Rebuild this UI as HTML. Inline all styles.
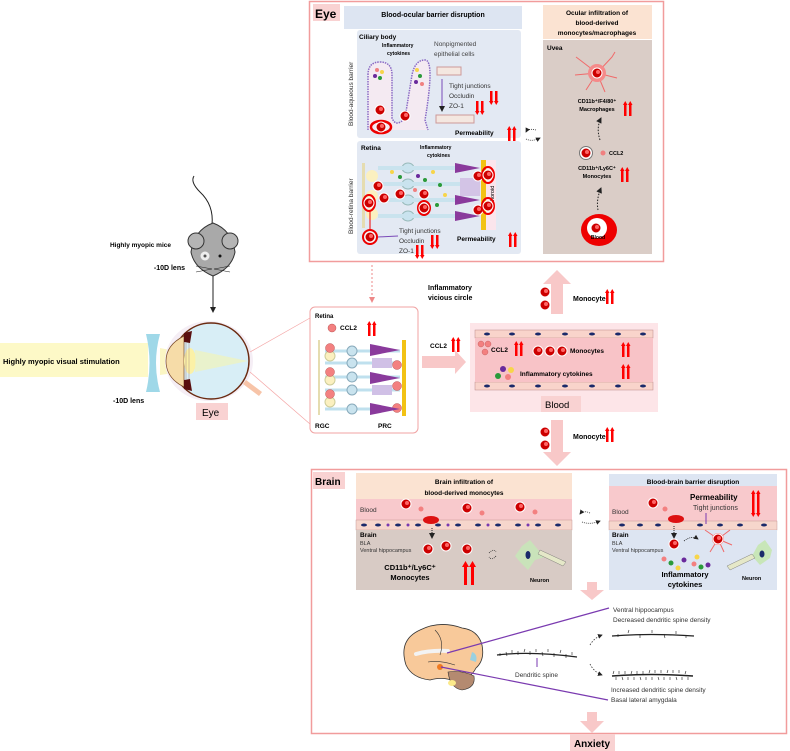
<!DOCTYPE html>
<html><head><meta charset="utf-8"><style>
html,body{margin:0;padding:0;background:#fff;}
svg{display:block;font-family:"Liberation Sans",Arial,sans-serif;}
.b{font-weight:bold;}
</style></head><body>
<svg width="790" height="751" viewBox="0 0 790 751" xmlns="http://www.w3.org/2000/svg">
<defs>
<marker id="ah" markerWidth="6" markerHeight="6" refX="5" refY="3" orient="auto"><path d="M0,0L6,3L0,6z" fill="#222"/></marker>
<marker id="ahr" markerWidth="6" markerHeight="6" refX="5" refY="3" orient="auto"><path d="M0,0L6,3L0,6z" fill="#e88"/></marker>
<g id="up"><rect x="0" y="2" width="2.5" height="12" fill="#f00"/><path d="M-1,3L1.25,-1L3.5,3z" fill="#f00"/><rect x="5" y="2" width="2.5" height="12" fill="#f00"/><path d="M4,3L6.25,-1L8.5,3z" fill="#f00"/></g>
<g id="dn"><rect x="0" y="0" width="2.5" height="11" fill="#f00"/><path d="M-1,10L1.25,14L3.5,10z" fill="#f00"/><rect x="5" y="0" width="2.5" height="11" fill="#f00"/><path d="M4,10L6.25,14L8.5,10z" fill="#f00"/></g>
<g id="mono"><circle r="5" fill="#c00" stroke="#fff" stroke-width="1"/><circle r="2" cx="1" cy="-1" fill="#f66"/></g>
</defs>

<!-- ===== EYE BOX ===== -->
<rect x="309.5" y="1.5" width="354" height="260" fill="#fff" stroke="#f19c9c" stroke-width="1.5"/>
<rect x="313" y="4" width="27" height="17" fill="#f9d2d2"/>
<text x="315" y="18" font-size="12" class="b">Eye</text>
<rect x="344" y="6" width="178" height="23" fill="#dde5f2"/>
<text x="433" y="17" font-size="7" class="b" text-anchor="middle">Blood-ocular barrier disruption</text>
<rect x="357" y="30" width="164" height="108" rx="3" fill="#e3e9f3"/>
<rect x="357" y="141" width="164" height="113" rx="3" fill="#e3e9f3"/>
<text transform="translate(353,126) rotate(-90)" font-size="6.5" fill="#333">Blood-aqueous barrier</text>
<text transform="translate(353,234) rotate(-90)" font-size="6.5" fill="#333">Blood-retina barrier</text>
<text x="359" y="39" font-size="6.5" class="b">Ciliary body</text>
<text x="382" y="47" font-size="5" class="b">Inflammatory</text>
<text x="387" y="55" font-size="5" class="b">cytokines</text>
<text x="434" y="46" font-size="6.5" fill="#444">Nonpigmented</text>
<text x="434" y="56" font-size="6.5" fill="#444">epithelial cells</text>
<path d="M368,130 L368,75 Q368,62 380,62 Q392,62 392,75 L392,118 Q396,128 405,118 L412,75 Q415,60 425,60 Q435,60 425,120 L428,130" fill="#f4eaf2" stroke="#8a6ac4" stroke-width="1.5" stroke-dasharray="1.5,1"/>
<circle cx="377" cy="70" r="2" fill="#f08080"/><circle cx="382" cy="72" r="2" fill="#f7d54a"/><circle cx="375" cy="76" r="2" fill="#6a2a9c"/><circle cx="380" cy="78" r="2" fill="#2a9a3a"/>
<circle cx="417" cy="70" r="2" fill="#f7d54a"/><circle cx="420" cy="76" r="2" fill="#2a9a3a"/><circle cx="416" cy="82" r="2" fill="#6a2a9c"/><circle cx="422" cy="84" r="2" fill="#f08080"/>
<use href="#mono" x="380" y="110"/><use href="#mono" x="405" y="116"/>
<ellipse cx="381" cy="127" rx="10" ry="6" fill="none" stroke="#e00" stroke-width="2.5"/><use href="#mono" x="381" y="127"/>
<rect x="437" y="67" width="24" height="8" fill="#f4e7e0" stroke="#c99"/><rect x="436" y="115" width="38" height="8" fill="#f4e7e0" stroke="#c99"/>
<line x1="442" y1="79" x2="442" y2="111" stroke="#7a4ab8" stroke-width="1" marker-end="url(#ah)"/>
<text x="449" y="88" font-size="6.5" fill="#333">Tight junctions</text>
<text x="449" y="98" font-size="6.5" fill="#333">Occludin</text><use href="#dn" x="490" y="91"/>
<text x="449" y="108" font-size="6.5" fill="#333">ZO-1</text><use href="#dn" x="476" y="101"/>
<text x="455" y="135" font-size="6.5" class="b">Permeability</text><use href="#up" x="508" y="127"/>
<text x="361" y="150" font-size="6.5" class="b">Retina</text>
<text x="420" y="149" font-size="5" class="b">Inflammatory</text>
<text x="427" y="157" font-size="5" class="b">cytokines</text>
<g>
<rect x="362" y="163" width="3" height="65" fill="#e5dcb0"/>
<g fill="#c9e3ee" stroke="#9bb">
<ellipse cx="408" cy="168" rx="6" ry="5"/><ellipse cx="408" cy="184" rx="6" ry="5"/><ellipse cx="408" cy="200" rx="6" ry="5"/><ellipse cx="408" cy="216" rx="6" ry="5"/>
</g>
<g fill="#fbf0c0"><ellipse cx="372" cy="176" rx="6" ry="6"/><ellipse cx="372" cy="196" rx="6" ry="6"/><ellipse cx="372" cy="214" rx="6" ry="6"/></g>
<g stroke="#c9e3ee" stroke-width="4"><line x1="378" y1="168" x2="470" y2="168"/><line x1="378" y1="184" x2="470" y2="184"/><line x1="378" y1="200" x2="470" y2="200"/><line x1="378" y1="216" x2="470" y2="216"/></g>
<g fill="#8a3a9c"><path d="M455,163L480,168L455,173z"/><path d="M455,195L480,200L455,205z"/><path d="M455,211L480,216L455,221z"/></g>
<g fill="#d3c4e6"><rect x="460" y="178" width="20" height="10"/><rect x="460" y="188" width="20" height="8"/></g>
<rect x="481" y="160" width="5" height="70" fill="#f2c214"/>
<rect x="486" y="160" width="10" height="70" fill="#fbe5ec"/>
<text transform="translate(494,205) rotate(-90)" font-size="5.5">Choroid</text>
<circle cx="392" cy="172" r="2" fill="#f7d54a"/><circle cx="400" cy="177" r="2" fill="#2a9a3a"/><circle cx="418" cy="176" r="2" fill="#6a2a9c"/><circle cx="425" cy="180" r="2" fill="#2a9a3a"/><circle cx="433" cy="172" r="2" fill="#f7d54a"/><circle cx="440" cy="185" r="2" fill="#2a9a3a"/><circle cx="415" cy="190" r="2" fill="#f08080"/><circle cx="445" cy="195" r="2" fill="#f7d54a"/><circle cx="437" cy="205" r="2" fill="#2a9a3a"/>
<use href="#mono" x="378" y="186"/><use href="#mono" x="384" y="198"/><use href="#mono" x="400" y="194"/><use href="#mono" x="424" y="194"/><use href="#mono" x="478" y="176"/><use href="#mono" x="478" y="210"/>
<ellipse cx="369" cy="203" rx="6" ry="8" fill="none" stroke="#e00" stroke-width="2"/><use href="#mono" x="369" y="203"/>
<ellipse cx="424" cy="208" rx="6" ry="7" fill="none" stroke="#e00" stroke-width="2"/><use href="#mono" x="424" y="208"/>
<ellipse cx="488" cy="175" rx="6" ry="8" fill="none" stroke="#e00" stroke-width="2"/><use href="#mono" x="488" y="175"/>
<ellipse cx="488" cy="206" rx="6" ry="8" fill="none" stroke="#e00" stroke-width="2"/><use href="#mono" x="488" y="206"/>
</g>
<ellipse cx="370" cy="237" rx="7" ry="7" fill="none" stroke="#e00" stroke-width="2"/><use href="#mono" x="370" y="237"/>
<line x1="370" y1="210" x2="370" y2="230" stroke="#e00"/>
<line x1="378" y1="237" x2="398" y2="236" stroke="#7a4ab8"/>
<text x="399" y="233" font-size="6.5" fill="#333">Tight junctions</text>
<text x="399" y="243" font-size="6.5" fill="#333">Occludin</text><use href="#dn" x="431" y="235"/>
<text x="399" y="253" font-size="6.5" fill="#333">ZO-1</text><use href="#dn" x="416" y="245"/>
<text x="457" y="241" font-size="6.5" class="b">Permeability</text><use href="#up" x="509" y="233"/>
<path d="M536,130 Q528,128 526,132" fill="none" stroke="#333" stroke-width="0.8" stroke-dasharray="1,1" marker-end="url(#ah)"/>
<path d="M526,139 Q532,142 540,138" fill="none" stroke="#333" stroke-width="0.8" stroke-dasharray="1,1" marker-end="url(#ah)"/>
<rect x="543" y="5" width="109" height="34" fill="#fbe3d2"/>
<text x="597" y="15" font-size="6.5" class="b" text-anchor="middle">Ocular infiltration of</text>
<text x="597" y="25" font-size="6.5" class="b" text-anchor="middle">blood-derived</text>
<text x="597" y="35" font-size="6.5" class="b" text-anchor="middle">monocytes/macrophages</text>
<rect x="543" y="40" width="109" height="214" fill="#dacdc7"/>
<text x="547" y="50" font-size="6.5" class="b">Uvea</text>
<g stroke="#f06a6a" stroke-width="1" fill="none"><path d="M597,73L580,60M597,73L612,57M597,73L617,78M597,73L586,90M597,73L605,92M597,73L575,75M580,60L576,57M612,57L615,52"/></g>
<circle cx="597" cy="73" r="9" fill="#f58a8a"/><use href="#mono" x="597" y="73"/>
<text x="597" y="103" font-size="5.5" class="b" text-anchor="middle">CD11b⁺/F4/80⁺</text>
<text x="597" y="111" font-size="5.5" class="b" text-anchor="middle">Macrophages</text><use href="#up" x="624" y="102"/>
<path d="M600,140 Q596,128 601,118" fill="none" stroke="#222" stroke-width="1" stroke-dasharray="1.5,1.5" marker-end="url(#ah)"/>
<circle cx="586" cy="153" r="6.5" fill="#fff" stroke="#777"/><use href="#mono" x="586" y="153"/>
<circle cx="603" cy="153" r="2.5" fill="#f08080"/>
<text x="609" y="155" font-size="5.5" class="b">CCL2</text>
<text x="597" y="170" font-size="5.5" class="b" text-anchor="middle">CD11b⁺/Ly6C⁺</text>
<text x="597" y="178" font-size="5.5" class="b" text-anchor="middle">Monocytes</text><use href="#up" x="621" y="168"/>
<path d="M598,210 Q596,200 601,188" fill="none" stroke="#222" stroke-width="1" stroke-dasharray="1.5,1.5" marker-end="url(#ah)"/>
<ellipse cx="599" cy="230" rx="18" ry="16" fill="#e00"/><circle cx="597" cy="228" r="10" fill="#fff"/><use href="#mono" x="596" y="228"/>
<text x="598" y="239" font-size="5" class="b" text-anchor="middle">Blood</text>

<line x1="372" y1="265" x2="372" y2="302" stroke="#e88" stroke-dasharray="2,2" marker-end="url(#ahr)"/>

<!-- ===== LEFT: mouse & eye ===== -->
<path d="M212,225 Q214,205 200,192 Q190,182 194,176" fill="none" stroke="#222" stroke-width="1"/>
<path d="M213,223 Q232,230 235,252 Q232,268 213,276 Q194,268 191,252 Q194,230 213,223z" fill="#a9a9a9" stroke="#333" stroke-width="1"/>
<circle cx="196" cy="241" r="8" fill="#b5b5b5" stroke="#333"/><circle cx="230" cy="241" r="8" fill="#b5b5b5" stroke="#333"/>
<circle cx="205" cy="256" r="4.5" fill="#eee"/><circle cx="205" cy="256" r="1.5" fill="#555"/><circle cx="220" cy="256" r="1.5" fill="#111"/>
<g stroke="#222" stroke-width="0.6"><line x1="212" y1="269" x2="196" y2="266"/><line x1="212" y1="269" x2="196" y2="272"/><line x1="214" y1="269" x2="230" y2="266"/><line x1="214" y1="269" x2="230" y2="272"/></g>
<text x="171" y="247" font-size="6.5" class="b" text-anchor="end">Highly myopic mice</text>
<text x="185" y="270" font-size="7" class="b" text-anchor="end">-10D lens</text>
<line x1="213" y1="276" x2="213" y2="312" stroke="#222" stroke-width="1" marker-end="url(#ah)"/>
<rect x="0" y="343" width="148" height="34" fill="#fdf9c7"/>
<path d="M160,348 L210,358 L210,368 L160,375z" fill="#fbf6c4"/>
<text x="3" y="364" font-size="7.5" class="b">Highly myopic visual stimulation</text>
<path d="M146,334 L160,334 Q152,363 160,392 L146,392 Q153,363 146,334z" fill="#9fd8e8"/>
<text x="113" y="403" font-size="7" class="b">-10D lens</text>
<ellipse cx="209" cy="361" rx="44" ry="40" fill="#f5eef5"/>
<circle cx="211" cy="361" r="38" fill="#d8eef6" stroke="#6b2b12" stroke-width="1.5"/>
<path d="M184,336 Q166,345 166,361 Q166,378 184,387z" fill="#f6dca8" stroke="#7a4a2a" stroke-width="0.7"/>
<ellipse cx="190" cy="361" rx="6" ry="13" fill="#fbf1a6"/>
<path d="M195,350 L248,361 L195,372z" fill="#eef3c2" opacity="0.8"/>
<path d="M184,333 L192,331 L190,343 L184,342z M184,389 L192,391 L190,379 L184,380z" fill="#5a0f0f"/>
<g stroke="#a88" stroke-width="0.5"><line x1="186" y1="343" x2="186" y2="379"/><line x1="189" y1="343" x2="189" y2="379"/></g>
<path d="M246,380 L262,392 L259,396 L243,384z" fill="#f7c4a8"/>
<rect x="196" y="403" width="32" height="17" fill="#f9d2d2"/>
<text x="202" y="416" font-size="10">Eye</text>
<line x1="250" y1="352" x2="310" y2="318" stroke="#f4a5a5" stroke-width="0.7"/>
<line x1="250" y1="372" x2="310" y2="424" stroke="#f4a5a5" stroke-width="0.7"/>

<rect x="310" y="307" width="108" height="126" rx="5" fill="#fff" stroke="#f0a3a3" stroke-width="1"/>
<text x="315" y="318" font-size="6" class="b">Retina</text>
<circle cx="332" cy="328" r="4" fill="#f38080" stroke="#b55" stroke-width="0.5"/>
<text x="340" y="330" font-size="6.5" class="b">CCL2</text><use href="#up" x="368" y="322"/>
<rect x="318" y="340" width="2" height="75" fill="#e5dcb0"/>
<g stroke="#bfe0ee" stroke-width="3"><line x1="325" y1="351" x2="400" y2="351"/><line x1="325" y1="363" x2="400" y2="363"/><line x1="325" y1="377" x2="400" y2="377"/><line x1="325" y1="390" x2="400" y2="390"/><line x1="325" y1="409" x2="400" y2="409"/></g>
<g fill="#c9e3ee" stroke="#8ab"><circle cx="352" cy="351" r="5"/><circle cx="352" cy="363" r="5"/><circle cx="352" cy="377" r="5"/><circle cx="352" cy="390" r="5"/><circle cx="352" cy="409" r="5"/></g>
<g fill="#fbf0c0" stroke="#cc9"><circle cx="330" cy="356" r="5"/><circle cx="330" cy="380" r="5"/><circle cx="330" cy="402" r="5"/></g>
<g fill="#f38080" stroke="#b55" stroke-width="0.5"><circle cx="330" cy="348" r="4.5"/><circle cx="330" cy="372" r="4.5"/><circle cx="330" cy="394" r="4.5"/><circle cx="397" cy="365" r="4.5"/><circle cx="397" cy="386" r="4.5"/><circle cx="397" cy="408" r="4.5"/></g>
<g fill="#8a3a9c"><path d="M370,344L400,350L370,356z"/><path d="M370,372L400,378L370,384z"/><path d="M370,403L400,409L370,415z"/></g>
<g fill="#d0c0e6"><rect x="372" y="358" width="20" height="10"/><rect x="372" y="385" width="20" height="10"/></g>
<rect x="402" y="340" width="4" height="76" fill="#f2c214"/>
<text x="315" y="428" font-size="6.5" class="b">RGC</text>
<text x="378" y="428" font-size="6.5" class="b">PRC</text>

<text x="428" y="290" font-size="7" class="b">Inflammatory</text>
<text x="428" y="300" font-size="7" class="b">vicious circle</text>
<text x="430" y="348" font-size="6.5" class="b">CCL2</text><use href="#up" x="452" y="338"/>
<path d="M422,356 L455,356 L455,350 L466,362 L455,374 L455,368 L422,368z" fill="#f8c8c8"/>

<rect x="470" y="323" width="188" height="89" fill="#fde5e8"/>
<rect x="475" y="330" width="178" height="8" fill="#f9d4cb" stroke="#b88" stroke-width="0.5"/>
<rect x="475" y="382" width="178" height="8" fill="#f9d4cb" stroke="#b88" stroke-width="0.5"/>
<rect x="475" y="338" width="178" height="44" fill="#f8c3c7"/>
<g fill="#1a2a6a"><ellipse cx="487" cy="334" rx="3" ry="1.5"/><ellipse cx="512" cy="334" rx="3" ry="1.5"/><ellipse cx="538" cy="334" rx="3" ry="1.5"/><ellipse cx="565" cy="334" rx="3" ry="1.5"/><ellipse cx="592" cy="334" rx="3" ry="1.5"/><ellipse cx="618" cy="334" rx="3" ry="1.5"/><ellipse cx="643" cy="334" rx="3" ry="1.5"/>
<ellipse cx="487" cy="386" rx="3" ry="1.5"/><ellipse cx="512" cy="386" rx="3" ry="1.5"/><ellipse cx="538" cy="386" rx="3" ry="1.5"/><ellipse cx="565" cy="386" rx="3" ry="1.5"/><ellipse cx="592" cy="386" rx="3" ry="1.5"/><ellipse cx="618" cy="386" rx="3" ry="1.5"/><ellipse cx="643" cy="386" rx="3" ry="1.5"/></g>
<g fill="#f38080" stroke="#b55" stroke-width="0.4"><circle cx="481" cy="344" r="3"/><circle cx="488" cy="344" r="3"/><circle cx="485" cy="352" r="3"/></g>
<text x="491" y="352" font-size="6.5" class="b">CCL2</text><use href="#up" x="515" y="342"/>
<use href="#mono" x="538" y="351"/><use href="#mono" x="550" y="351"/><use href="#mono" x="562" y="351"/>
<text x="570" y="353" font-size="6.5" class="b">Monocytes</text><use href="#up" x="622" y="343"/>
<circle cx="503" cy="369" r="3" fill="#6a2a9c"/><circle cx="511" cy="370" r="3" fill="#f7d54a"/><circle cx="498" cy="376" r="3" fill="#2a9a3a"/><circle cx="508" cy="377" r="3" fill="#f38080"/>
<text x="520" y="376" font-size="6.5" class="b">Inflammatory cytokines</text><use href="#up" x="622" y="365"/>
<rect x="541" y="396" width="40" height="16" fill="#f9d2d2"/>
<text x="545" y="408" font-size="9.5">Blood</text>

<path d="M551,314 L551,284 L543,284 L557,270 L571,284 L563,284 L563,314z" fill="#f8c8c8"/>
<use href="#mono" x="545" y="292"/><use href="#mono" x="545" y="305"/>
<text x="573" y="301" font-size="7" class="b">Monocyte</text><use href="#up" x="606" y="290"/>
<path d="M551,420 L563,420 L563,452 L571,452 L557,466 L543,452 L551,452z" fill="#f8c8c8"/>
<use href="#mono" x="545" y="432"/><use href="#mono" x="545" y="445"/>
<text x="573" y="439" font-size="7" class="b">Monocyte</text><use href="#up" x="606" y="428"/>

<!-- ===== BRAIN BOX ===== -->
<rect x="311.5" y="469.5" width="475" height="264" fill="#fff" stroke="#f19c9c" stroke-width="1.5"/>
<rect x="313" y="472" width="32" height="17" fill="#f9d2d2"/>
<text x="315" y="485" font-size="10" class="b">Brain</text>
<rect x="356" y="473" width="216" height="26" fill="#fbe3d2"/>
<text x="464" y="484" font-size="6.5" class="b" text-anchor="middle">Brain infiltration of</text>
<text x="464" y="495" font-size="6.5" class="b" text-anchor="middle">blood-derived monocytes</text>
<rect x="356" y="499" width="216" height="21" fill="#f8c9cc"/>
<rect x="356" y="520" width="216" height="10" fill="#f6d6cc" stroke="#b88" stroke-width="0.4"/>
<rect x="356" y="530" width="216" height="60" fill="#d8cbc5"/>
<g fill="#1a2a6a"><ellipse cx="364" cy="525" rx="3" ry="1.5"/><ellipse cx="378" cy="525" rx="3" ry="1.5"/><ellipse cx="398" cy="525" rx="3" ry="1.5"/><ellipse cx="418" cy="525" rx="3" ry="1.5"/><ellipse cx="438" cy="525" rx="3" ry="1.5"/><ellipse cx="458" cy="525" rx="3" ry="1.5"/><ellipse cx="478" cy="525" rx="3" ry="1.5"/><ellipse cx="498" cy="525" rx="3" ry="1.5"/><ellipse cx="518" cy="525" rx="3" ry="1.5"/><ellipse cx="538" cy="525" rx="3" ry="1.5"/><ellipse cx="558" cy="525" rx="3" ry="1.5"/></g>
<g fill="#7a3ab0"><circle cx="388" cy="525" r="1.5"/><circle cx="408" cy="525" r="1.5"/><circle cx="448" cy="525" r="1.5"/><circle cx="488" cy="525" r="1.5"/><circle cx="528" cy="525" r="1.5"/></g>
<text x="360" y="512" font-size="6.5" fill="#333">Blood</text>
<use href="#mono" x="406" y="504"/><circle cx="421" cy="509" r="2.5" fill="#f38080"/>
<use href="#mono" x="467" y="508"/><circle cx="482" cy="513" r="2.5" fill="#f38080"/>
<use href="#mono" x="520" y="507"/><circle cx="535" cy="512" r="2.5" fill="#f38080"/>
<ellipse cx="431" cy="520" rx="8" ry="4" fill="#d11"/>
<line x1="432" y1="528" x2="432" y2="538" stroke="#222" stroke-dasharray="1,1" marker-end="url(#ah)"/>
<text x="360" y="537" font-size="6.5" class="b">Brain</text>
<text x="360" y="545" font-size="5.5" fill="#333">BLA</text>
<text x="360" y="552" font-size="5.5" fill="#333">Ventral hippocampus</text>
<use href="#mono" x="428" y="549"/><use href="#mono" x="446" y="546"/><use href="#mono" x="467" y="549"/>
<path d="M489,553 Q494,548 496,552 M496,556 Q492,561 489,557" fill="none" stroke="#222" stroke-width="0.7" stroke-dasharray="1,1"/>
<path d="M515,556 L522,546 L530,540 L540,552 L548,556 L535,560 L528,570 L520,562z" fill="#c8e6b8" opacity="0.9"/>
<ellipse cx="528" cy="555" rx="2.5" ry="4" fill="#1a2a6a"/>
<path d="M540,550 L566,562 L563,566 L538,554z" fill="#e5e8c8" stroke="#666" stroke-width="0.4"/>
<text x="410" y="570" font-size="7.5" class="b" text-anchor="middle">CD11b⁺/Ly6C⁺</text>
<text x="410" y="580" font-size="7.5" class="b" text-anchor="middle">Monocytes</text>
<rect x="464" y="565" width="3" height="20" fill="#f00"/><path d="M462,567L465.5,561L469,567z" fill="#f00"/>
<rect x="471" y="565" width="3" height="20" fill="#f00"/><path d="M469,567L472.5,561L476,567z" fill="#f00"/>
<text x="530" y="582" font-size="5.5" class="b">Neuron</text>
<path d="M590,513 Q583,510 580,514" fill="none" stroke="#333" stroke-width="0.8" stroke-dasharray="1,1" marker-end="url(#ah)"/>
<path d="M582,522 Q590,525 600,521" fill="none" stroke="#333" stroke-width="0.8" stroke-dasharray="1,1" marker-end="url(#ah)"/>
<rect x="609" y="474" width="168" height="12" fill="#dde5f2"/>
<text x="693" y="484" font-size="6.5" class="b" text-anchor="middle">Blood-brain barrier disruption</text>
<rect x="609" y="486" width="168" height="35" fill="#f8c9cc"/>
<rect x="609" y="521" width="168" height="9" fill="#f6d6cc" stroke="#b88" stroke-width="0.4"/>
<rect x="609" y="530" width="168" height="60" fill="#dde5f2"/>
<g fill="#1a2a6a"><ellipse cx="622" cy="525" rx="3" ry="1.5"/><ellipse cx="640" cy="525" rx="3" ry="1.5"/><ellipse cx="658" cy="525" rx="3" ry="1.5"/><ellipse cx="700" cy="525" rx="3" ry="1.5"/><ellipse cx="720" cy="525" rx="3" ry="1.5"/><ellipse cx="740" cy="525" rx="3" ry="1.5"/><ellipse cx="764" cy="525" rx="3" ry="1.5"/></g>
<text x="612" y="514" font-size="6.5" fill="#333">Blood</text>
<text x="690" y="500" font-size="8" class="b">Permeability</text><use href="#up" x="752" y="491"/>
<text x="693" y="510" font-size="7" fill="#333">Tight junctions</text><use href="#dn" x="752" y="503"/>
<line x1="706" y1="513" x2="706" y2="524" stroke="#7a3ab0"/>
<use href="#mono" x="653" y="503"/><circle cx="665" cy="509" r="2.5" fill="#f38080"/>
<ellipse cx="676" cy="519" rx="8" ry="4" fill="#d11"/>
<line x1="674" y1="526" x2="674" y2="538" stroke="#222" stroke-dasharray="1,1" marker-end="url(#ah)"/>
<text x="612" y="537" font-size="6.5" class="b">Brain</text>
<text x="612" y="545" font-size="5.5" fill="#333">BLA</text>
<text x="612" y="552" font-size="5.5" fill="#333">Ventral hippocampus</text>
<use href="#mono" x="674" y="544"/>
<path d="M684,541 Q692,535 698,539" fill="none" stroke="#222" stroke-width="0.8" stroke-dasharray="1,1" marker-end="url(#ah)"/>
<g stroke="#f06a6a" stroke-width="1"><path d="M718,539L705,530M718,539L730,530M718,539L732,545M718,539L710,552M718,539L724,552"/></g>
<circle cx="718" cy="539" r="6" fill="#f58a8a"/><use href="#mono" x="718" y="539"/>
<g><circle cx="664" cy="559" r="2.5" fill="#f38080"/><circle cx="671" cy="563" r="2.5" fill="#2a9a3a"/><circle cx="678" cy="568" r="2.5" fill="#f7d54a"/><circle cx="684" cy="560" r="2.5" fill="#6a2a9c"/><circle cx="697" cy="557" r="2.5" fill="#f7d54a"/><circle cx="694" cy="564" r="2.5" fill="#f38080"/><circle cx="701" cy="567" r="2.5" fill="#2a9a3a"/><circle cx="708" cy="565" r="2.5" fill="#6a2a9c"/></g>
<text x="685" y="577" font-size="7.5" class="b" text-anchor="middle">Inflammatory</text>
<text x="685" y="587" font-size="7.5" class="b" text-anchor="middle">cytokines</text>
<path d="M752,556 L758,545 L765,540 L772,550 L770,558 L760,565z" fill="#c8e6b8"/>
<ellipse cx="762" cy="554" rx="2.5" ry="3.5" fill="#1a2a6a"/>
<path d="M727,566 L752,554 L755,558 L730,570z" fill="#e5e8c8" stroke="#666" stroke-width="0.4"/>
<text x="742" y="580" font-size="5.5" class="b">Neuron</text>

<path d="M587,582 L597,582 L597,590 L604,590 L592,600 L580,590 L587,590z" fill="#f8c8c8"/>
<path d="M406,665 Q398,640 420,630 Q440,620 462,628 Q478,630 482,645 Q485,660 476,668 Q470,680 455,682 Q445,676 430,680 Q412,678 406,665z" fill="#f8c99a" stroke="#333" stroke-width="0.8"/>
<path d="M448,672 Q462,670 474,676 Q476,688 462,690 Q450,688 448,672z" fill="#b48a70" stroke="#333" stroke-width="0.6"/>
<ellipse cx="452" cy="683" rx="4" ry="3" fill="#fbe98a"/>
<path d="M416,654 Q430,650 448,651" stroke="#f3f3f3" stroke-width="4" fill="none" stroke-linecap="round"/>
<path d="M472,652 Q478,654 476,662 L470,660z" fill="#9ad0e0"/>
<circle cx="440" cy="667" r="3" fill="#f07a20"/>
<path d="M435,630 Q445,640 440,655 M428,662 Q440,660 455,665" stroke="#333" stroke-width="0.6" fill="none"/>
<line x1="447" y1="653" x2="609" y2="608" stroke="#7a3ab0" stroke-width="1.2"/>
<line x1="441" y1="667" x2="608" y2="700" stroke="#7a3ab0" stroke-width="1.2"/>
<g stroke="#222" fill="none"><path d="M497,655 Q530,651 577,657" stroke-width="1.3"/><path d="M500,653 l0,3 M506,652 l1,4 M512,653 l0,-3 M518,651 l0,4 M524,652 l1,-3 M530,651 l0,4 M536,652 l0,-3 M542,652 l1,4 M548,652 l0,-3 M554,653 l0,4 M560,653 l1,-3 M566,654 l0,4 M572,655 l0,-3" stroke-width="0.6"/></g>
<line x1="537" y1="658" x2="537" y2="667" stroke="#7a3ab0"/>
<text x="515" y="677" font-size="6.5" fill="#333">Dendritic spine</text>
<text x="613" y="612" font-size="6.5" fill="#333">Ventral hippocampus</text>
<text x="613" y="622" font-size="6.5" fill="#333">Decreased dendritic spine density</text>
<g stroke="#222" fill="none"><path d="M612,636 Q650,633 694,636" stroke-width="1.3"/><path d="M618,634 l0,3 M628,633 l1,-3 M640,634 l0,4 M652,633 l0,-3 M664,634 l1,4 M676,634 l0,-3 M686,635 l0,3" stroke-width="0.6"/></g>
<g stroke="#222" fill="none"><path d="M612,676 Q650,673 693,676" stroke-width="1.5"/><path d="M613,674 l1,-3 M616,677 l0,3 M619,674 l0,-3 M622,677 l1,3 M625,674 l0,-3 M628,677 l0,3 M631,674 l1,-3 M634,677 l0,3 M637,674 l0,-3 M640,677 l1,3 M643,674 l0,-3 M646,677 l0,3 M649,673 l1,-3 M652,677 l0,3 M655,673 l0,-3 M658,677 l1,3 M661,673 l0,-3 M664,677 l0,3 M667,673 l1,-3 M670,677 l0,3 M673,673 l0,-3 M676,677 l1,3 M679,673 l0,-3 M682,677 l0,3 M685,674 l1,-3 M688,677 l0,3" stroke-width="0.6"/></g>
<path d="M590,645 Q594,638 602,635" fill="none" stroke="#333" stroke-width="0.8" stroke-dasharray="1.5,1.5" marker-end="url(#ah)"/>
<path d="M590,664 Q594,672 602,675" fill="none" stroke="#333" stroke-width="0.8" stroke-dasharray="1.5,1.5" marker-end="url(#ah)"/>
<text x="611" y="692" font-size="6.5" fill="#333">Increased dendritic spine density</text>
<text x="611" y="702" font-size="6.5" fill="#333">Basal lateral amygdala</text>
<path d="M587,712 L597,712 L597,721 L604,721 L592,733 L580,721 L587,721z" fill="#f8c8c8"/>
<rect x="570" y="734" width="45" height="17" fill="#f9d2d2"/>
<text x="592" y="747" font-size="10" class="b" text-anchor="middle">Anxiety</text>
</svg>
</body></html>
